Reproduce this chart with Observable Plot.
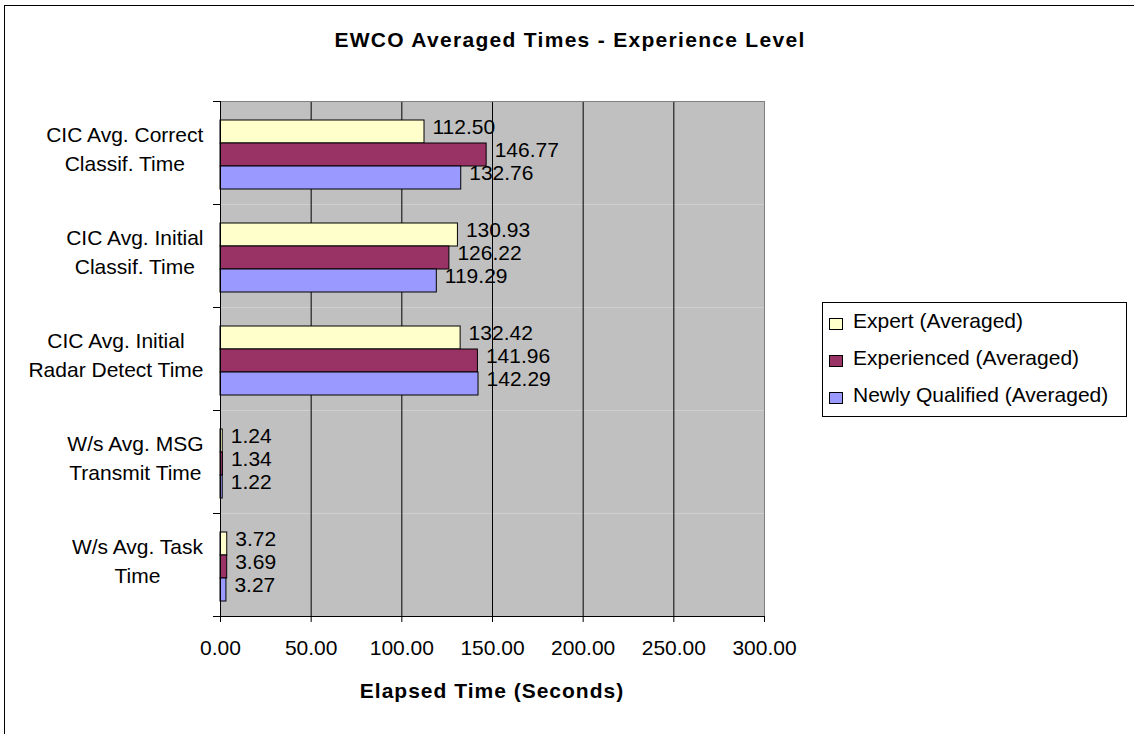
<!DOCTYPE html>
<html>
<head>
<meta charset="utf-8">
<script src="https://cdn.jsdelivr.net/npm/d3@7"></script>
<script src="https://cdn.jsdelivr.net/npm/@observablehq/plot@0.6"></script>
<style>
html, body { margin: 0; padding: 0; background: #fff; }
#wrap { position: relative; width: 1134px; height: 734px; overflow: hidden; font-family: "Liberation Sans", Arial, sans-serif; color: #000; }
#chart { position: absolute; left: 0; top: 0; }
#border { position: absolute; left: 4px; top: 5px; width: 1200px; height: 800px; border: 1px solid #000; pointer-events: none; }
#title { position: absolute; left: 0; top: 28px; width: 1140px; text-align: center; font-weight: bold; font-size: 21px; letter-spacing: 1.3px; line-height: 24px; white-space: nowrap; }
#xtitle { position: absolute; left: 220px; top: 679px; width: 544px; text-align: center; font-weight: bold; font-size: 21px; letter-spacing: 1px; line-height: 24px; white-space: nowrap; }
#legend { position: absolute; left: 822px; top: 302px; width: 305px; height: 115px; box-sizing: border-box; border: 1px solid #000; padding-top: 5.7px; background: #fff; }
.row { height: 37px; position: relative; font-size: 21px; line-height: 24px; }
.sw { position: absolute; left: 6px; top: 9px; width: 14px; height: 12px; box-sizing: border-box; border: 1px solid #000; }
.lab { position: absolute; left: 30px; top: 0; white-space: nowrap; }
</style>
</head>
<body>
<div id="wrap">
  <div id="title"></div>
  <div id="xtitle"></div>
  <div id="legend"></div>
  <div id="border"></div>
</div>
<script>
// ---- data ----
const titleText = "EWCO Averaged Times - Experience Level";
const xTitle = "Elapsed Time (Seconds)";
const categories = [
  "CIC Avg. Correct\nClassif. Time",
  "CIC Avg. Initial\nClassif. Time",
  "CIC Avg. Initial\nRadar Detect Time",
  "W/s Avg. MSG\nTransmit Time",
  "W/s Avg. Task\nTime"
];
const series = ["Expert (Averaged)", "Experienced (Averaged)", "Newly Qualified (Averaged)"];
const expert = [112.50, 130.93, 132.42, 1.24, 3.72];
const experienced = [146.77, 126.22, 141.96, 1.34, 3.69];
const newlyQualified = [132.76, 119.29, 142.29, 1.22, 3.27];
const colors = ["#FFFFCC", "#993366", "#9999FF"];
const xTicks = [0, 50, 100, 150, 200, 250, 300];

const seriesValues = [expert, experienced, newlyQualified];
const rows = [];
categories.forEach((c, ci) => series.forEach((s, si) => rows.push({category: c, series: s, value: seriesValues[si][ci]})));

document.getElementById("title").textContent = titleText;
document.getElementById("xtitle").textContent = xTitle;
const legend = document.getElementById("legend");
series.forEach((s, i) => {
  const r = document.createElement("div"); r.className = "row";
  const sw = document.createElement("div"); sw.className = "sw"; sw.style.background = colors[i];
  const lb = document.createElement("div"); lb.className = "lab"; lb.textContent = s;
  r.appendChild(sw); r.appendChild(lb); legend.appendChild(r);
});

const W = 800, H = 734, mL = 220, mR = 36, mT = 99, mB = 117;
const plotW = W - mL - mR;

const chart = Plot.plot({
  width: W, height: H,
  marginLeft: mL, marginRight: mR, marginTop: mT, marginBottom: mB,
  style: {fontFamily: "'Liberation Sans', Arial, sans-serif", fontSize: "21px", background: "transparent", color: "#000"},
  x: {domain: [0, 300], axis: null},
  y: {domain: series, paddingInner: 0, paddingOuter: 0.733, align: 0.56, axis: null},
  fy: {domain: categories, padding: 0, axis: null},
  color: {domain: series, range: colors},
  marks: [
    Plot.frame({fill: "#C0C0C0"}),
    Plot.gridX({ticks: xTicks.slice(1, -1), stroke: "#000", strokeOpacity: 1, strokeWidth: 1}),
    Plot.frame({anchor: "right", stroke: "#808080"}),
    Plot.frame({anchor: "top", stroke: "#808080", fy: () => categories[0]}),
    Plot.barX(rows, {x: "value", y: "series", fy: "category", fill: "series", stroke: "#000", strokeWidth: 1}),
    Plot.text(rows, {x: "value", y: "series", fy: "category", text: d => d.value.toFixed(2), textAnchor: "start", dx: 8, dy: -5, fill: "#000"}),
    Plot.ruleX([0], {stroke: "#000"}),
    Plot.frame({anchor: "top", stroke: "#000", insetLeft: -7, insetRight: plotW}),
    Plot.frame({anchor: "bottom", stroke: "#000", insetLeft: -7, fy: () => categories[categories.length - 1]}),
    Plot.text(categories, {fy: d => d, text: d => d, frameAnchor: "left", textAnchor: "middle", lineHeight: 1.38, dy: -6, fill: "#000"}),
    Plot.axisX({ticks: xTicks, tickFormat: d3.format(".2f"), tickSize: 6, tickPadding: 18, label: null, stroke: "#000", fill: "#000"})
  ]
});
chart.id = "chart";
document.getElementById("wrap").insertBefore(chart, document.getElementById("title"));

// right-align each category label block while keeping its lines centred
const catKeys = new Set(categories.map(c => c.replace(/\n/g, "")));
chart.querySelectorAll("text").forEach(el => {
  if (!catKeys.has(el.textContent)) return;
  const t = el.transform.baseVal.consolidate();
  const x = t ? t.matrix.e : 0, y = t ? t.matrix.f : 0;
  const b = el.getBBox();
  el.setAttribute("transform", `translate(${x - 17 - (b.x + b.width)},${y})`);
});
</script>
</body>
</html>
